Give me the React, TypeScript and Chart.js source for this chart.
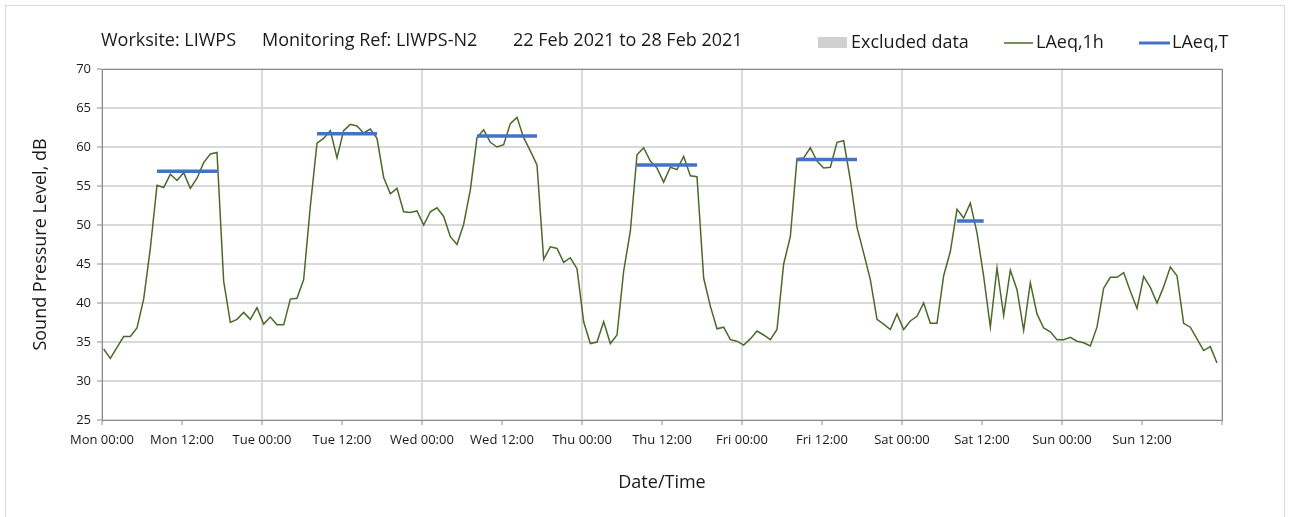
import React, { useEffect, useRef } from "react";
import { Chart, registerables } from "chart.js";

Chart.register(...registerables);

// ---- Data ----
const titleParts = ["Worksite: LIWPS", "Monitoring Ref: LIWPS-N2", "22 Feb 2021 to 28 Feb 2021"];
const legendLabels = ["Excluded data", "LAeq,1h", "LAeq,T"];
const xTickLabels = [
  "Mon 00:00", "Mon 12:00", "Tue 00:00", "Tue 12:00", "Wed 00:00", "Wed 12:00",
  "Thu 00:00", "Thu 12:00", "Fri 00:00", "Fri 12:00", "Sat 00:00", "Sat 12:00",
  "Sun 00:00", "Sun 12:00", "",
];
const yAxisTitle = "Sound Pressure Level, dB";
const xAxisTitle = "Date/Time";

// hourly sample time offset (hours after the hour)
const sampleOffsetHours = 0.25;

// LAeq,1h values, one per hour from Mon 00:00
const laeq1h = [
  34.1, 32.9, 34.3, 35.7, 35.7, 36.8, 40.5, 47.0, 55.1, 54.8,
  56.5, 55.7, 56.7, 54.7, 56.0, 58.0, 59.1, 59.3, 42.8, 37.5,
  37.9, 38.8, 37.9, 39.4, 37.3, 38.2, 37.2, 37.2, 40.5, 40.6,
  43.0, 52.4, 60.5, 61.1, 62.1, 58.6, 62.1, 62.9, 62.7, 61.8,
  62.3, 61.1, 56.1, 54.0, 54.7, 51.7, 51.6, 51.8, 50.0, 51.7,
  52.2, 51.1, 48.5, 47.5, 50.1, 54.5, 61.2, 62.2, 60.6, 60.0,
  60.3, 63.0, 63.8, 61.2, 59.5, 57.7, 45.6, 47.2, 47.0, 45.2,
  45.8, 44.4, 37.6, 34.8, 35.0, 37.6, 34.8, 35.9, 44.1, 49.2,
  59.0, 59.9, 58.2, 57.3, 55.5, 57.4, 57.1, 58.8, 56.3, 56.2,
  43.2, 39.6, 36.7, 36.9, 35.3, 35.1, 34.6, 35.4, 36.4, 35.9,
  35.3, 36.6, 45.0, 48.5, 58.5, 58.6, 59.9, 58.2, 57.3, 57.4,
  60.6, 60.8, 55.8, 49.7, 46.4, 43.0, 37.9, 37.3, 36.6, 38.6,
  36.6, 37.7, 38.3, 40.0, 37.4, 37.4, 43.5, 46.6, 52.0, 50.9,
  52.8, 49.0, 43.4, 36.9, 44.5, 38.4, 44.2, 41.7, 36.5, 42.6,
  38.6, 36.8, 36.3, 35.3, 35.3, 35.6, 35.1, 34.9, 34.5, 36.9,
  41.9, 43.3, 43.3, 43.9, 41.5, 39.3, 43.4, 42.0, 40.0, 42.1,
  44.6, 43.5, 37.4, 36.9, 35.4, 33.9, 34.4, 32.3,
];

// LAeq,T periods (hour index start/end) and levels
const periodStartHour = [8, 32, 56, 80, 104, 128];
const periodEndHour = [17, 41, 65, 89, 113, 132];
const periodLevel = [56.9, 61.7, 61.4, 57.7, 58.4, 50.5];

const GREEN = "#4a6a2a";
const BLUE = "#4472C4";
const FONT = '"Open Sans", sans-serif';

export default function App() {
  const canvasRef = useRef<HTMLCanvasElement | null>(null);

  useEffect(() => {
    const canvas = canvasRef.current;
    if (!canvas) return;

    const lineData = laeq1h.map((v, i) => ({ x: i + sampleOffsetHours, y: v }));
    const periodData: any[] = [];
    periodLevel.forEach((lv, k) => {
      periodData.push({ x: periodStartHour[k] + sampleOffsetHours, y: lv });
      periodData.push({ x: periodEndHour[k] + sampleOffsetHours, y: lv });
      periodData.push({ x: periodEndHour[k] + sampleOffsetHours + 0.5, y: null });
    });

    const overlay = {
      id: "overlay",
      afterDraw(chart: any) {
        const { ctx, chartArea } = chart;
        ctx.save();
        // plot area border
        ctx.strokeStyle = "#8c8c8c";
        ctx.lineWidth = 1;
        ctx.strokeRect(chartArea.left + 0.5, chartArea.top + 0.5, chartArea.right - chartArea.left, chartArea.bottom - chartArea.top);
        // title
        ctx.fillStyle = "#1a1a1a";
        ctx.font = `18px ${FONT}`;
        ctx.textBaseline = "middle";
        ctx.textAlign = "left";
        const tx = [101, 262, 513];
        titleParts.forEach((t, i) => ctx.fillText(t, tx[i], 41));
        // legend
        ctx.fillStyle = "#d0d0d0";
        ctx.fillRect(818, 37, 29, 11);
        ctx.fillStyle = "#1a1a1a";
        ctx.fillText(legendLabels[0], 851, 43);
        ctx.strokeStyle = GREEN;
        ctx.lineWidth = 1.5;
        ctx.beginPath();
        ctx.moveTo(1004, 43);
        ctx.lineTo(1033, 43);
        ctx.stroke();
        ctx.fillText(legendLabels[1], 1036, 43);
        ctx.strokeStyle = BLUE;
        ctx.lineWidth = 3;
        ctx.beginPath();
        ctx.moveTo(1139, 43);
        ctx.lineTo(1170, 43);
        ctx.stroke();
        ctx.fillText(legendLabels[2], 1172, 43);
        ctx.restore();
      },
    };

    const chart = new Chart(canvas, {
      type: "line",
      data: {
        datasets: [
          {
            label: legendLabels[1],
            data: lineData,
            borderColor: GREEN,
            borderWidth: 1.5,
            pointRadius: 0,
            tension: 0,
            order: 2,
          },
          {
            label: legendLabels[2],
            data: periodData,
            borderColor: BLUE,
            borderWidth: 3.5,
            pointRadius: 0,
            spanGaps: false,
            borderCapStyle: "butt",
            order: 1,
          },
        ],
      },
      options: {
        responsive: false,
        animation: false,
        events: [],
        layout: { padding: { left: 0, top: 69, right: 73, bottom: 0 } },
        plugins: { legend: { display: false }, tooltip: { enabled: false }, title: { display: false } },
        scales: {
          x: {
            type: "linear",
            min: 0,
            max: 168,
            afterFit: (s: any) => { s.height = 97; },
            ticks: {
              stepSize: 12,
              autoSkip: false,
              maxRotation: 0,
              padding: 7,
              color: "#1a1a1a",
              font: { family: FONT, size: 13 },
              callback: (v: any) => xTickLabels[Math.round(Number(v) / 12)] ?? "",
            },
            grid: {
              color: (c: any) => (c.tick && c.tick.value % 24 === 0 ? "#d9d9d9" : "rgba(0,0,0,0)"),
              lineWidth: 2,
              tickColor: "#8c8c8c",
              tickLength: 5,
              tickWidth: 1,
            },
            border: { display: true, color: "#8c8c8c", width: 1 },
            title: {
              display: true,
              text: xAxisTitle,
              color: "#1a1a1a",
              font: { family: FONT, size: 18 },
              padding: { top: 0, bottom: 23 },
            },
          },
          y: {
            min: 25,
            max: 70,
            afterFit: (s: any) => { s.width = 102; },
            ticks: {
              stepSize: 5,
              padding: 6,
              color: "#1a1a1a",
              font: { family: FONT, size: 13 },
            },
            grid: {
              color: "#d9d9d9",
              lineWidth: 2,
              tickColor: "#8c8c8c",
              tickLength: 5,
              tickWidth: 1,
            },
            border: { display: true, color: "#8c8c8c", width: 1 },
            title: {
              display: true,
              text: yAxisTitle,
              color: "#1a1a1a",
              font: { family: FONT, size: 18 },
              padding: { top: 30, bottom: 0 },
            },
          },
        },
      },
      plugins: [overlay],
    });

    return () => chart.destroy();
  }, []);

  return (
    <div style={{ position: "absolute", left: 0, top: 0, width: 1295, height: 517, overflow: "hidden", background: "#fff" }}>
      <div style={{ position: "absolute", left: 5, top: 5, width: 1278, height: 530, border: "1px solid #d9d9d9" }} />
      <canvas ref={canvasRef} width={1295} height={517} style={{ position: "absolute", left: 0, top: 0 }} />
    </div>
  );
}
